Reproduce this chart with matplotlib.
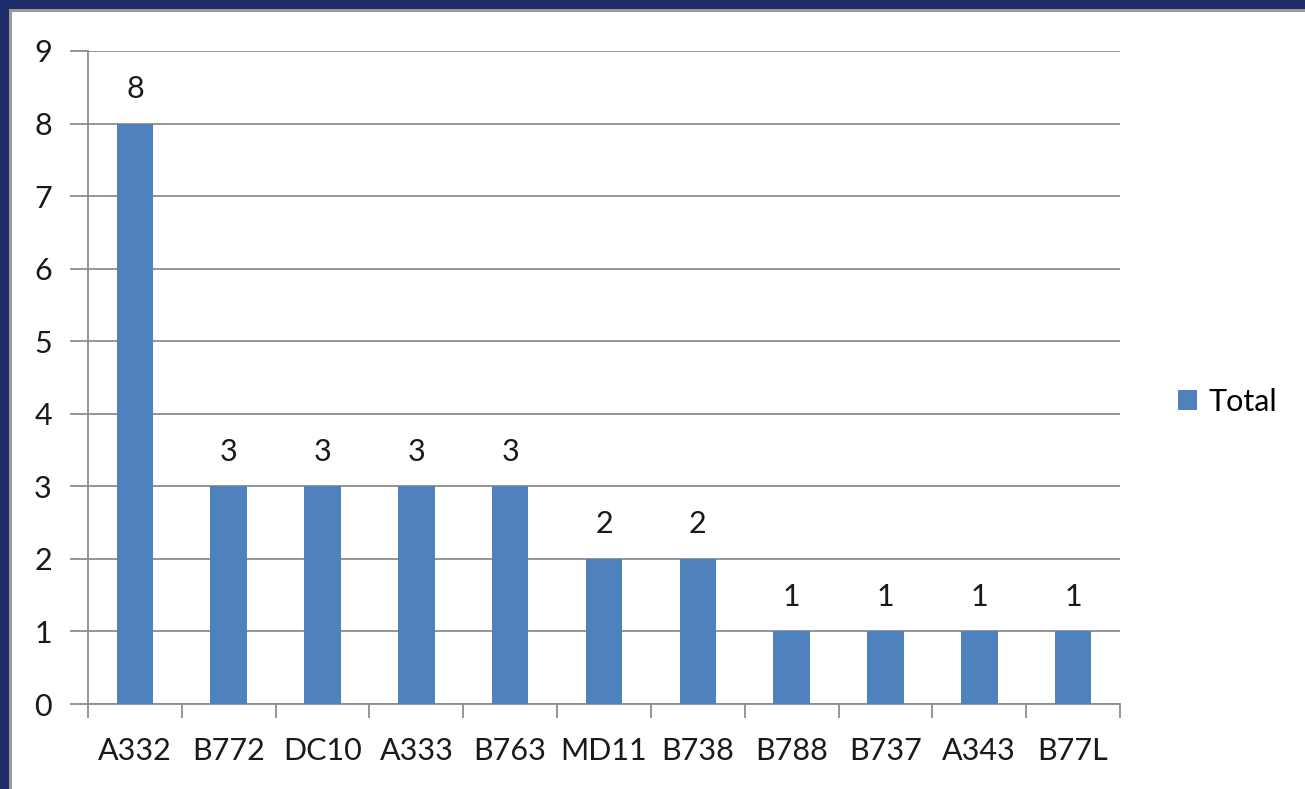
import matplotlib
matplotlib.use("Agg")
import matplotlib.pyplot as plt
from matplotlib.patches import Rectangle, Patch

aircraft = ["A332", "B772", "DC10", "A333", "B763", "MD11", "B738",
            "B788", "B737", "A343", "B77L"]
totals = [8, 3, 3, 3, 3, 2, 2, 1, 1, 1, 1]
y_ticks = list(range(0, 10))

BAR_BLUE = "#4f81bd"
GRID_GRAY = "#8c8c8c"
NAVY = "#1d2e6b"
FS = 22

plt.rcParams["font.family"] = ["Lato", "DejaVu Sans"]

W, H = 1305, 789
fig = plt.figure(figsize=(W / 100, H / 100), dpi=100)
fig.patch.set_facecolor("white")

# frame of the slide: navy band top/left with a thin gray inner line
fig.patches.append(Rectangle((0, 1 - 9 / H), 1, 9 / H, transform=fig.transFigure,
                             facecolor=NAVY, edgecolor="none", zorder=0))
fig.patches.append(Rectangle((9 / W, 1 - 12 / H), 1, 3 / H, transform=fig.transFigure,
                             facecolor="#9a9a9a", edgecolor="none", zorder=0))
fig.patches.append(Rectangle((0, 0), 9 / W, 1, transform=fig.transFigure,
                             facecolor=NAVY, edgecolor="none", zorder=0))
fig.patches.append(Rectangle((9 / W, 0), 3 / W, 1 - 9 / H, transform=fig.transFigure,
                             facecolor="#9a9a9a", edgecolor="none", zorder=0))

left, right, bottom, top = 88 / W, 1120 / W, 1 - 704 / H, 1 - 51 / H
ax = fig.add_axes([left, bottom, right - left, top - bottom])

x = list(range(len(aircraft)))
bars = ax.bar(x, totals, width=0.39, color=BAR_BLUE, zorder=3)
for rect, val in zip(bars, totals):
    ax.annotate(str(val), (rect.get_x() + rect.get_width() / 2, val),
                xytext=(0, 15), textcoords="offset points",
                ha="center", va="bottom", fontsize=FS, color="#1a1a1a")

ax.set_xlim(-0.5, len(aircraft) - 0.5)
ax.set_ylim(0, 9)
ax.set_yticks(y_ticks)
ax.yaxis.grid(True, color=GRID_GRAY, linewidth=1.3, zorder=0)
ax.set_axisbelow(True)

ax.set_xticks(x)
ax.set_xticklabels(aircraft, fontsize=FS, color="#1a1a1a")
ax.set_xticks([i - 0.5 for i in range(len(aircraft) + 1)], minor=True)
ax.tick_params(axis="x", which="major", length=0, pad=24)
ax.tick_params(axis="x", which="minor", length=10, width=1.3, color=GRID_GRAY)
ax.tick_params(axis="y", length=13, width=1.3, color=GRID_GRAY,
               labelsize=FS, labelcolor="#1a1a1a", pad=13)

for side in ("top", "right"):
    ax.spines[side].set_visible(False)
for side in ("left", "bottom"):
    ax.spines[side].set_color(GRID_GRAY)
    ax.spines[side].set_linewidth(1.3)

fig.legend(handles=[Patch(facecolor=BAR_BLUE, label="Total")],
           loc="center left", bbox_to_anchor=(1150 / W, 1 - 402 / H),
           frameon=False, fontsize=FS, handlelength=0.65, handleheight=0.65,
           handletextpad=0.35)

fig.savefig("out.png", dpi=100)
